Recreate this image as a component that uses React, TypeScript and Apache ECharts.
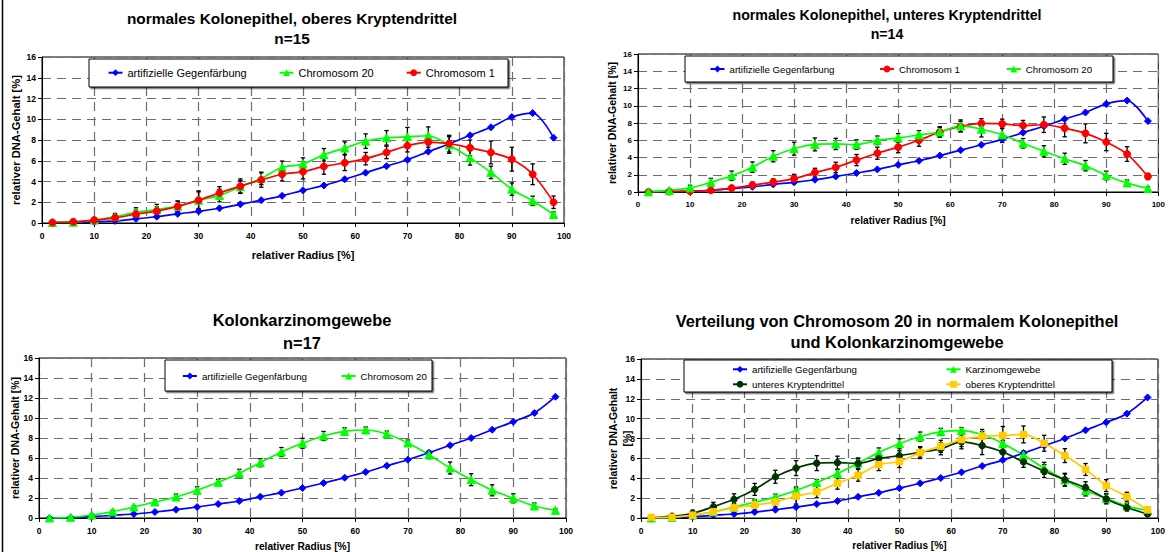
import React, { useEffect, useRef } from "react";
import * as echarts from "echarts";

// relative radius positions [%]
const RADIUS = [2, 6, 10, 14, 18, 22, 26, 30, 34, 38, 42, 46, 50, 54, 58, 62, 66, 70, 74, 78, 82, 86, 90, 94, 98];

// artifizielle Gegenfärbung (normal epithelium)
const BLUE_NORMAL = [0.05, 0.05, 0.1, 0.2, 0.4, 0.6, 0.88, 1.12, 1.42, 1.8, 2.2, 2.62, 3.15, 3.62, 4.22, 4.85, 5.48, 6.1, 6.88, 7.62, 8.45, 9.22, 10.22, 10.6, 8.22];
// artifizielle Gegenfärbung (carcinoma)
const BLUE_CARC = [0.0, 0.03, 0.13, 0.27, 0.4, 0.6, 0.83, 1.1, 1.4, 1.7, 2.13, 2.53, 3.0, 3.5, 4.03, 4.6, 5.23, 5.83, 6.53, 7.27, 8.0, 8.83, 9.63, 10.5, 12.13];

// Chromosom 20, oberes Kryptendrittel
const C20_UPPER = [0.05, 0.08, 0.28, 0.62, 1.02, 1.3, 1.62, 2.2, 2.64, 3.5, 4.3, 5.37, 5.68, 6.58, 7.22, 7.89, 8.21, 8.31, 8.41, 7.52, 6.28, 4.88, 3.26, 2.14, 0.82];
const C20_UPPER_ERR = [0.05, 0.05, 0.1, 0.3, 0.45, 0.5, 0.5, 0.8, 0.6, 0.6, 0.6, 0.6, 0.6, 0.6, 0.6, 0.7, 0.7, 0.9, 0.85, 0.8, 0.7, 0.6, 0.6, 0.45, 0.25];
// Chromosom 1, oberes Kryptendrittel
const C1_UPPER = [0.05, 0.12, 0.28, 0.5, 0.85, 1.15, 1.6, 2.2, 2.9, 3.55, 4.15, 4.7, 4.95, 5.45, 5.8, 6.2, 6.8, 7.45, 7.8, 7.65, 7.25, 6.8, 6.15, 4.7, 2.0];
const C1_UPPER_ERR = [0.05, 0.05, 0.1, 0.3, 0.4, 0.4, 0.5, 0.9, 0.6, 0.7, 0.7, 0.65, 0.7, 0.75, 0.75, 0.6, 0.6, 0.6, 0.5, 0.8, 0.75, 1.1, 1.15, 1.0, 0.6];

// Chromosom 1, unteres Kryptendrittel
const C1_LOWER = [0.0, 0.05, 0.1, 0.2, 0.45, 0.8, 1.15, 1.55, 2.25, 2.85, 3.7, 4.5, 5.2, 6.0, 6.95, 7.6, 7.95, 7.9, 7.7, 7.8, 7.4, 6.8, 5.8, 4.4, 1.8];
const C1_LOWER_ERR = [0.05, 0.05, 0.05, 0.1, 0.15, 0.35, 0.35, 0.5, 0.5, 0.6, 0.65, 0.7, 0.65, 0.7, 0.55, 0.6, 0.55, 0.55, 0.6, 0.9, 1.0, 1.1, 1.0, 0.85, 0.35];
// Chromosom 20, unteres Kryptendrittel
const C20_LOWER = [0.02, 0.18, 0.48, 1.13, 1.88, 2.88, 4.15, 5.02, 5.52, 5.57, 5.5, 5.99, 6.27, 6.62, 6.96, 7.66, 7.28, 6.64, 5.65, 4.72, 3.85, 3.05, 1.92, 1.05, 0.4];
const C20_LOWER_ERR = [0.05, 0.1, 0.3, 0.45, 0.55, 0.6, 0.65, 0.75, 0.75, 0.65, 0.55, 0.5, 0.5, 0.5, 0.6, 0.7, 0.9, 0.9, 0.55, 0.65, 0.65, 0.6, 0.5, 0.35, 0.2];

// Chromosom 20, Kolonkarzinomgewebe
const C20_CARC = [0.0, 0.07, 0.3, 0.63, 1.1, 1.6, 2.1, 2.77, 3.57, 4.47, 5.53, 6.6, 7.47, 8.2, 8.67, 8.8, 8.4, 7.5, 6.33, 5.0, 3.83, 2.77, 1.97, 1.2, 0.77];
const C20_CARC_ERR = [0.05, 0.05, 0.1, 0.15, 0.15, 0.2, 0.3, 0.35, 0.3, 0.4, 0.4, 0.45, 0.5, 0.45, 0.35, 0.3, 0.3, 0.3, 0.4, 0.6, 0.6, 0.55, 0.45, 0.3, 0.15];

const N_BLUE = "artifizielle Gegenfärbung";
const N_C20 = "Chromosom 20";
const N_C1 = "Chromosom 1";
const N_CARC = "Karzinomgewebe";
const N_LOW = "unteres Kryptendrittel";
const N_UP = "oberes Kryptendrittel";

const TITLES = [
  "normales Kolonepithel, oberes Kryptendrittel\nn=15",
  "normales Kolonepithel, unteres Kryptendrittel\nn=14",
  "Kolonkarzinomgewebe\nn=17",
  "Verteilung von Chromosom 20 in normalem Kolonepithel\nund Kolonkarzinomgewebe",
];
const X_NAME = "relativer Radius [%]";
const Y_NAME = "relativer DNA-Gehalt [%]";
const Y_NAME_2 = "relativer DNA-Gehalt\n[%]";

const FONT = "'Liberation Sans', Arial, sans-serif";

const STYLES: Record<string, { color: string; symbol: string; size: number }> = {
  blue: { color: "#0000FF", symbol: "diamond", size: 7 },
  green: { color: "#00FF00", symbol: "triangle", size: 8 },
  red: { color: "#FF0000", symbol: "circle", size: 7 },
  dark: { color: "#003300", symbol: "circle", size: 6.5 },
  yellow: { color: "#FFCC00", symbol: "rect", size: 6.5 },
};

function pts(vals: number[]) {
  return RADIUS.map((x, i) => [x, vals[i]]);
}
function errPts(vals: number[], errs: number[]) {
  return RADIUS.map((x, i) => [x, vals[i], errs[i]]);
}

function lineSeries(name: string, vals: number[], style: string, gi: number) {
  const s = STYLES[style];
  return {
    type: "line",
    name,
    xAxisIndex: gi,
    yAxisIndex: gi,
    data: pts(vals),
    smooth: 0.3,
    symbol: s.symbol,
    symbolSize: s.size,
    showSymbol: true,
    lineStyle: { color: s.color, width: 1.7 },
    itemStyle: { color: s.color, borderColor: s.color },
    z: 3,
  };
}

function errSeries(id: string, vals: number[], errs: number[], gi: number) {
  return {
    type: "custom",
    name: id,
    xAxisIndex: gi,
    yAxisIndex: gi,
    data: errPts(vals, errs),
    encode: { x: 0, y: 1 },
    z: 2,
    renderItem: (params: any, api: any) => {
      const x = api.value(0);
      const y = api.value(1);
      const e = api.value(2);
      const top = api.coord([x, y + e]);
      const bot = api.coord([x, Math.max(0, y - e)]);
      const w = 2.2;
      const st = { stroke: "#000", lineWidth: 1.3 };
      return {
        type: "group",
        children: [
          { type: "line", shape: { x1: top[0], y1: top[1], x2: bot[0], y2: bot[1] }, style: st },
          { type: "line", shape: { x1: top[0] - w, y1: top[1], x2: top[0] + w, y2: top[1] }, style: st },
          { type: "line", shape: { x1: bot[0] - w, y1: bot[1], x2: bot[0] + w, y2: bot[1] }, style: st },
        ],
      };
    },
  };
}

// layout of the four panels
const GRIDS = [
  { left: 42, top: 57, width: 522, height: 166 },
  { left: 638, top: 54, width: 522, height: 138 },
  { left: 39, top: 358, width: 527, height: 160 },
  { left: 641, top: 359, width: 519, height: 159 },
];
const X_NAME_GAP = [26, 23, 23, 22];
const Y_NAME_GAP = [19.5, 19, 17, 7];
const X_NAME_SIZE = [11, 10.2, 10.2, 10.1];
const Y_NAME_SIZE = [11.2, 10.5, 10.5, 10.4];
const TICK_SIZE = [8.5, 8, 8.5, 8.5];

const TITLE_POS = [
  { left: 292, top: 8.5, lh: 20, size: 15.4 },
  { left: 887, top: 5.5, lh: 19, size: 14.2 },
  { left: 302, top: 309, lh: 22.5, size: 16.4 },
  { left: 897, top: 310, lh: 21.5, size: 16.4 },
];

const LEGEND_BOXES = [
  { x: 89, y: 59, w: 419, h: 28 },
  { x: 685, y: 56, w: 428, h: 26 },
  { x: 165, y: 360, w: 267, h: 31 },
  { x: 684, y: 360, w: 428, h: 32 },
];

// legend items: name, icon center x, center y, font size
const LEGEND_ITEMS: [string, number, number, number][] = [
  [N_BLUE, 114.5, 72.7, 11],
  [N_C20, 285.5, 72.7, 11],
  [N_C1, 412.7, 72.7, 11],
  [N_BLUE, 716.5, 69, 9.7],
  [N_C1, 886, 69, 9.7],
  [N_C20, 1012.8, 69, 9.7],
  [N_BLUE, 188.9, 376, 9.7],
  [N_C20, 347.6, 376, 9.7],
  [N_BLUE, 739, 369.3, 9.7],
  [N_CARC, 952.5, 369.3, 9.7],
  [N_LOW, 739, 384.3, 9.7],
  [N_UP, 952.5, 384.3, 9.7],
];

function buildOption() {
  const grid = GRIDS.map((g) => ({
    ...g,
    show: true,
    backgroundColor: "#fff",
    borderColor: "#000",
    borderWidth: 1,
  }));
  const split = { show: true, lineStyle: { color: "#6e6e6e", width: 1.2, type: [9, 6] } };
  const xAxis = GRIDS.map((_, i) => ({
    type: "value",
    gridIndex: i,
    min: 0,
    max: 100,
    interval: 10,
    name: X_NAME,
    nameLocation: "middle",
    nameGap: X_NAME_GAP[i],
    nameMoveOverlap: false,
    nameTextStyle: { fontFamily: FONT, fontWeight: "bold", fontSize: X_NAME_SIZE[i], color: "#000" },
    axisLine: { show: true, onZero: false, lineStyle: { color: "#000", width: 1 } },
    axisTick: { show: true, length: 4, lineStyle: { color: "#000" } },
    axisLabel: { fontFamily: FONT, fontWeight: "bold", fontSize: TICK_SIZE[i], color: "#000", margin: 8 },
    splitLine: split,
  }));
  const yAxis = GRIDS.map((_, i) => ({
    type: "value",
    gridIndex: i,
    min: 0,
    max: 16,
    interval: 2,
    name: i === 3 ? Y_NAME_2 : Y_NAME,
    nameLocation: "middle",
    nameRotate: 90,
    nameGap: Y_NAME_GAP[i],
    nameMoveOverlap: false,
    nameTextStyle: {
      fontFamily: FONT,
      fontWeight: "bold",
      fontSize: Y_NAME_SIZE[i],
      color: "#000",
      lineHeight: 14,
    },
    axisLine: { show: true, lineStyle: { color: "#000", width: 1 } },
    axisTick: { show: true, length: 4, lineStyle: { color: "#000" } },
    axisLabel: { fontFamily: FONT, fontWeight: "bold", fontSize: TICK_SIZE[i], color: "#000", margin: 6 },
    splitLine: split,
  }));

  const title = TITLES.map((t, i) => ({
    text: t,
    left: TITLE_POS[i].left,
    top: TITLE_POS[i].top,
    textAlign: "center",
    padding: 0,
    textStyle: {
      fontFamily: FONT,
      fontWeight: "bold",
      fontSize: TITLE_POS[i].size,
      lineHeight: TITLE_POS[i].lh,
      color: "#000",
    },
  }));

  const legend = LEGEND_ITEMS.map(([name, cx, cy, fs]) => ({
    data: [name],
    left: cx - 7,
    top: cy - 7,
    padding: 0,
    itemWidth: 14,
    itemHeight: 8.5,
    selectedMode: false,
    z: 10,
    textStyle: { fontFamily: FONT, fontSize: fs, color: "#000", lineHeight: 14 },
  }));

  const series: any[] = [
    // panel 1
    errSeries("err-p1-c20", C20_UPPER, C20_UPPER_ERR, 0),
    errSeries("err-p1-c1", C1_UPPER, C1_UPPER_ERR, 0),
    lineSeries(N_BLUE, BLUE_NORMAL, "blue", 0),
    lineSeries(N_C20, C20_UPPER, "green", 0),
    lineSeries(N_C1, C1_UPPER, "red", 0),
    // panel 2
    errSeries("err-p2-c1", C1_LOWER, C1_LOWER_ERR, 1),
    errSeries("err-p2-c20", C20_LOWER, C20_LOWER_ERR, 1),
    lineSeries(N_BLUE, BLUE_NORMAL, "blue", 1),
    lineSeries(N_C1, C1_LOWER, "red", 1),
    lineSeries(N_C20, C20_LOWER, "green", 1),
    // panel 3
    errSeries("err-p3-c20", C20_CARC, C20_CARC_ERR, 2),
    lineSeries(N_BLUE, BLUE_CARC, "blue", 2),
    lineSeries(N_C20, C20_CARC, "green", 2),
    // panel 4
    errSeries("err-p4-carc", C20_CARC, C20_CARC_ERR, 3),
    errSeries("err-p4-low", C20_LOWER, C20_LOWER_ERR, 3),
    errSeries("err-p4-up", C20_UPPER, C20_UPPER_ERR, 3),
    lineSeries(N_BLUE, BLUE_CARC, "blue", 3),
    lineSeries(N_CARC, C20_CARC, "green", 3),
    lineSeries(N_LOW, C20_LOWER, "dark", 3),
    lineSeries(N_UP, C20_UPPER, "yellow", 3),
  ];

  const graphic = [
    {
      type: "line",
      z: 1,
      shape: { x1: 2.5, y1: 0, x2: 2.5, y2: 552 },
      style: { stroke: "#000", lineWidth: 1.5 },
    },
    ...LEGEND_BOXES.map((b) => ({
      type: "rect",
      z: 8,
      shape: { x: b.x, y: b.y, width: b.w, height: b.h },
      style: {
        fill: "#fff",
        stroke: "#000",
        lineWidth: 1,
        shadowColor: "rgba(0,0,0,0.6)",
        shadowOffsetX: 1.5,
        shadowOffsetY: 1.5,
        shadowBlur: 0,
      },
    })),
  ];

  return {
    animation: false,
    backgroundColor: "#fff",
    title,
    legend,
    grid,
    xAxis,
    yAxis,
    series,
    graphic,
  };
}

export default function App() {
  const ref = useRef<HTMLDivElement>(null);
  useEffect(() => {
    if (!ref.current) return;
    const chart = echarts.init(ref.current, null, { renderer: "svg" });
    chart.setOption(buildOption() as any);
    return () => chart.dispose();
  }, []);
  return (
    <div
      ref={ref}
      style={{ position: "absolute", left: 0, top: 0, width: 1168, height: 552, background: "#fff" }}
    />
  );
}
